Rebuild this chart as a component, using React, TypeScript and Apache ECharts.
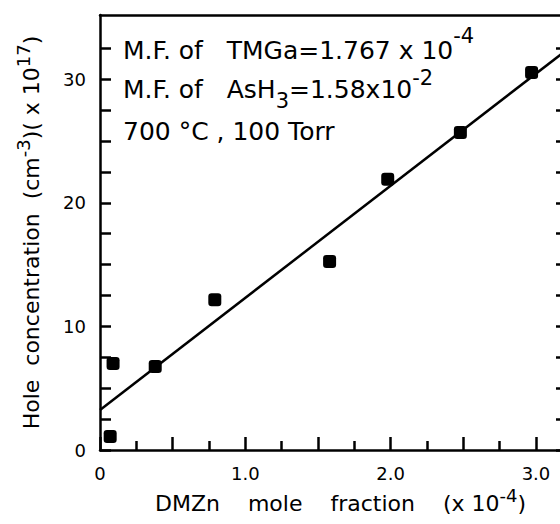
import React, { useEffect, useRef } from "react";
import * as echarts from "echarts";

// DMZn mole fraction (x 1e-4) and hole concentration (x 1e17 cm^-3)
const dmznMoleFraction = [0.07, 0.09, 0.38, 0.79, 1.58, 1.98, 2.48, 2.97];
const holeConcentration = [1.1, 7.0, 6.75, 12.15, 15.25, 21.9, 25.7, 30.55];
// fitted straight line endpoints
const fitX = [0, 3.2];
const fitY = [3.24, 32.27];
// ticks and labels
const xMajorTicks = [0, 0.5, 1.0, 1.5, 2.0, 2.5, 3.0];
const xMinorTicks = [0.25, 0.75, 1.25, 1.75, 2.25, 2.75];
const xLabelValues = [0, 1, 2, 3];
const xLabelTexts = ["0", "1.0", "2.0", "3.0"];
const yTicks = [0, 2.5, 5, 7.5, 10, 12.5, 15, 17.5, 20, 22.5, 25, 27.5, 30, 32.5];
const yLabelValues = [0, 10, 20, 30];

const FONT = "DejaVu Sans";

export default function App() {
  const ref = useRef<HTMLDivElement>(null);
  useEffect(() => {
    if (!ref.current) return;
    const chart = echarts.init(ref.current, null, { renderer: "svg" });
    const black = "#000";
    const hiddenAxisBase = {
      type: "value",
      min: 0,
      splitLine: { show: false },
      axisLabel: { show: false },
    };
    chart.setOption({
      animation: false,
      backgroundColor: "#fff",
      grid: {
        left: 100,
        top: 15,
        width: 465,
        height: 435,
        containLabel: false,
        outerBoundsMode: "none",
      },
      xAxis: [
        {
          type: "value",
          min: 0,
          max: 3.2,
          axisLine: { show: true, onZero: false, lineStyle: { color: black, width: 2.5 } },
          axisTick: {
            show: true,
            inside: true,
            length: 13,
            customValues: xMajorTicks,
            lineStyle: { color: black, width: 2.5 },
          },
          splitLine: { show: false },
          axisLabel: {
            color: black,
            fontSize: 18,
            fontFamily: FONT,
            margin: 14,
            customValues: xLabelValues,
            formatter: (v: number) => xLabelTexts[xLabelValues.indexOf(v)] ?? "",
          },
          name: "{t|DMZn    mole    fraction    (x 10}{sup|-4}{t|)}",
          nameLocation: "middle",
          nameGap: 35,
          nameTextStyle: {
            color: black,
            fontFamily: FONT,
            fontSize: 22,
            padding: [0, 0, 0, 16],
            rich: {
              t: { fontSize: 22, lineHeight: 34, fontFamily: FONT, color: black },
              sup: { fontSize: 18, lineHeight: 17, verticalAlign: "top", fontFamily: FONT, color: black },
            },
          },
        },
        {
          ...hiddenAxisBase,
          max: 3.2,
          position: "bottom",
          axisLine: { show: false, onZero: false },
          axisTick: {
            show: true,
            inside: true,
            length: 9,
            customValues: xMinorTicks,
            lineStyle: { color: black, width: 2.5 },
          },
        },
        {
          ...hiddenAxisBase,
          position: "top",
          max: 3.2,
          axisLine: { show: true, onZero: false, lineStyle: { color: black, width: 2.5 } },
          axisTick: { show: false },
        },
      ],
      yAxis: [
        {
          type: "value",
          min: 0,
          max: 35.2,
          position: "left",
          axisLine: { show: true, onZero: false, lineStyle: { color: black, width: 2.5 } },
          axisTick: {
            show: true,
            inside: true,
            length: 11,
            customValues: yTicks,
            lineStyle: { color: black, width: 2.5 },
          },
          splitLine: { show: false },
          axisLabel: {
            color: black,
            fontSize: 18,
            fontFamily: FONT,
            margin: 14,
            customValues: yLabelValues,
          },
          name: "{t|Hole  concentration  (cm}{sup|-3}{t|)( x 10}{sup|17}{t|)}",
          nameLocation: "middle",
          nameGap: 52,
          nameRotate: 90,
          nameTextStyle: {
            color: black,
            fontFamily: FONT,
            fontSize: 22,
            rich: {
              t: { fontSize: 22, lineHeight: 34, fontFamily: FONT, color: black },
              sup: { fontSize: 18, lineHeight: 17, verticalAlign: "top", fontFamily: FONT, color: black },
            },
          },
        },
        {
          ...hiddenAxisBase,
          position: "right",
          max: 35.2,
          axisLine: { show: true, onZero: false, lineStyle: { color: black, width: 2.5 } },
          axisTick: {
            show: true,
            inside: true,
            length: 9,
            customValues: yTicks,
            lineStyle: { color: black, width: 2.5 },
          },
        },
      ],
      graphic: [
        {
          type: "text",
          x: 123,
          y: 25,
          style: {
            text: "{t|M.F. of   TMGa=1.767 x 10}{sup|-4}",
            fill: black,
            verticalAlign: "top",
            rich: {
              t: { fontSize: 25, lineHeight: 50, fontFamily: FONT, fill: black },
              sup: { fontSize: 21, lineHeight: 20, verticalAlign: "top", fontFamily: FONT, fill: black },
            },
          },
        },
        {
          type: "text",
          x: 123,
          y: 67,
          style: {
            text: "{t|M.F. of   AsH}{sub|3}{t|=1.58x10}{sup|-2}",
            fill: black,
            verticalAlign: "top",
            rich: {
              t: { fontSize: 25, lineHeight: 44, fontFamily: FONT, fill: black },
              sub: { fontSize: 21, lineHeight: 26, verticalAlign: "bottom", fontFamily: FONT, fill: black },
              sup: { fontSize: 21, lineHeight: 20, verticalAlign: "top", fontFamily: FONT, fill: black },
            },
          },
        },
        {
          type: "text",
          x: 123,
          y: 131,
          style: {
            text: "700 °C , 100 Torr",
            fill: black,
            fontSize: 25,
            fontFamily: FONT,
            verticalAlign: "middle",
          },
        },
      ],
      series: [
        {
          type: "line",
          data: fitX.map((x, i) => [x, fitY[i]]),
          showSymbol: false,
          symbol: "none",
          lineStyle: { color: black, width: 2.5 },
          clip: true,
          silent: true,
          z: 2,
        },
        {
          type: "scatter",
          data: dmznMoleFraction.map((x, i) => [x, holeConcentration[i]]),
          symbol: "roundRect",
          symbolSize: 13,
          itemStyle: { color: black, opacity: 1 },
          silent: true,
          z: 3,
        },
      ],
    });
    return () => chart.dispose();
  }, []);
  return (
    <div
      ref={ref}
      style={{ position: "fixed", left: 0, top: 0, width: 560, height: 524, background: "#fff" }}
    />
  );
}
